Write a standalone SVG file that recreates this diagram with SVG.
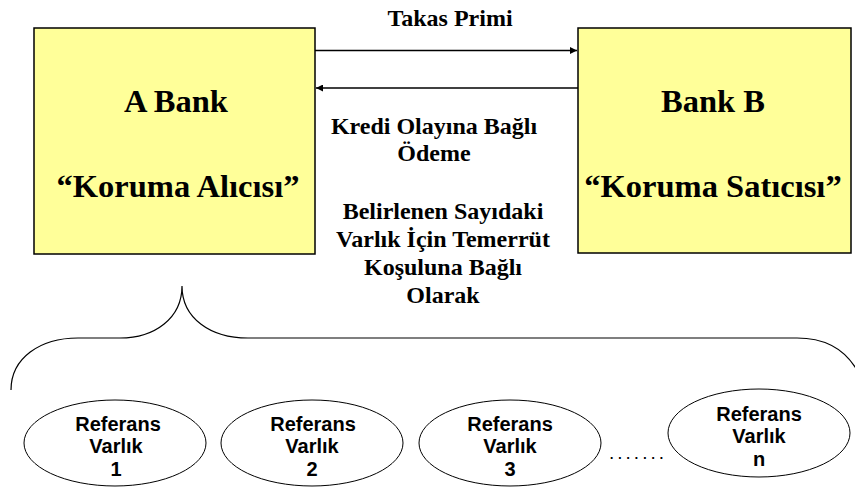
<svg xmlns="http://www.w3.org/2000/svg" width="855" height="497" viewBox="0 0 855 497">
  <style>
    .box { fill: #FFFF99; stroke: #000; stroke-width: 1.5; }
    .serif { font-family: 'Liberation Serif', 'Times New Roman', Times, 'DejaVu Serif', serif; font-weight: bold; text-anchor: middle; fill: #000; }
    .bank { font-size: 32.5px; }
    .mid { font-size: 24px; }
    .ref { fill: #fff; stroke: #000; stroke-width: 1; }
    .reft { font-family: 'Liberation Sans', Arial, sans-serif; font-weight: bold; font-size: 20px; text-anchor: middle; fill: #000; }
    .dots { font-family: 'Liberation Sans', Arial, sans-serif; font-size: 19px; letter-spacing: 3px; text-anchor: middle; fill: #000; }
    .link { stroke: #000; stroke-width: 1.3; fill: none; }
    .brace { stroke: #000; stroke-width: 1.2; fill: none; }
  </style>
  <defs>
    <marker id="arrow" viewBox="0 0 10 10" refX="10" refY="5" markerWidth="8" markerHeight="7" markerUnits="userSpaceOnUse" orient="auto">
      <path d="M0 0 L10 5 L0 10 Z" fill="#000"/>
    </marker>
  </defs>

  <rect width="855" height="497" fill="#fff"/>

  <!-- parties -->
  <g id="bank-a">
    <rect class="box" x="34" y="28" width="281" height="226"/>
    <text class="serif bank" x="176" y="112">A Bank</text>
    <text class="serif bank" x="178" y="197">“Koruma Alıcısı”</text>
  </g>
  <g id="bank-b">
    <rect class="box" x="578" y="28" width="273" height="225"/>
    <text class="serif bank" x="713" y="112">Bank B</text>
    <text class="serif bank" x="713" y="197">“Koruma Satıcısı”</text>
  </g>

  <!-- flows between the parties -->
  <g id="connectors">
    <line class="link" x1="315" y1="50.5" x2="577" y2="50.5" marker-end="url(#arrow)"/>
    <line class="link" x1="578" y1="88" x2="316" y2="88" marker-end="url(#arrow)"/>
    <path class="brace" d="M11 390 C11 358 40 338 78 338 L120 338 C155 338 182 318 182 286 C182 318 210 338 248 338 L797 338 C825 338 846 350 858 372"/>
  </g>

  <g id="labels">
    <text class="serif mid" x="450" y="26">Takas Primi</text>
    <text class="serif mid" x="434" y="134">Kredi Olayına Bağlı</text>
    <text class="serif mid" x="434" y="161">Ödeme</text>
    <text class="serif mid" x="443" y="219">Belirlenen Sayıdaki</text>
    <text class="serif mid" x="443" y="247">Varlık İçin Temerrüt</text>
    <text class="serif mid" x="443" y="275">Koşuluna Bağlı</text>
    <text class="serif mid" x="443" y="303">Olarak</text>
  </g>

  <!-- reference assets -->
  <g id="ref-1">
    <ellipse class="ref" cx="115" cy="443" rx="91" ry="43"/>
    <text class="reft" x="118" y="431">Referans</text>
    <text class="reft" x="116" y="453">Varlık</text>
    <text class="reft" x="116" y="476">1</text>
  </g>
  <g id="ref-2">
    <ellipse class="ref" cx="312" cy="443" rx="91" ry="43"/>
    <text class="reft" x="313" y="431">Referans</text>
    <text class="reft" x="312" y="453">Varlık</text>
    <text class="reft" x="312" y="476">2</text>
  </g>
  <g id="ref-3">
    <ellipse class="ref" cx="510" cy="443" rx="91" ry="43"/>
    <text class="reft" x="510" y="431">Referans</text>
    <text class="reft" x="510" y="453">Varlık</text>
    <text class="reft" x="510" y="476">3</text>
  </g>
  <text class="dots" x="638" y="459">.......</text>
  <g id="ref-n">
    <ellipse class="ref" cx="759" cy="433" rx="91" ry="44"/>
    <text class="reft" x="759" y="421">Referans</text>
    <text class="reft" x="759" y="443">Varlık</text>
    <text class="reft" x="759" y="466">n</text>
  </g>
</svg>
